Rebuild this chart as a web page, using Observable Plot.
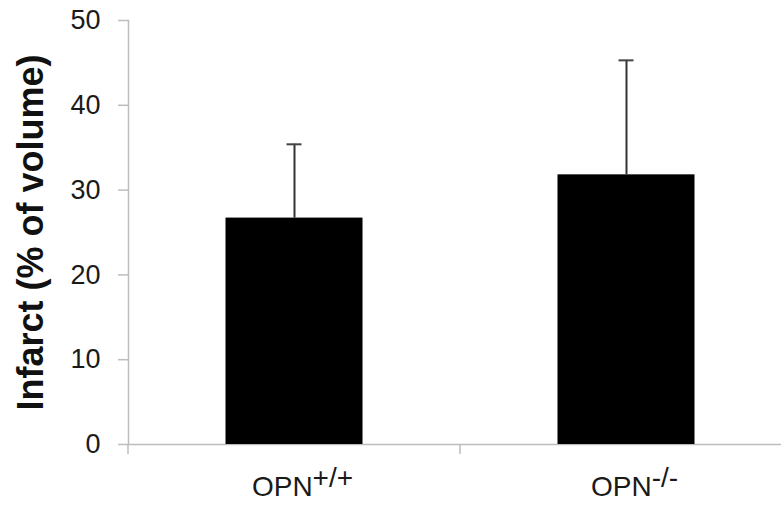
<!DOCTYPE html>
<html><head><meta charset="utf-8">
<script src="https://cdn.jsdelivr.net/npm/d3@7"></script>
<script src="https://cdn.jsdelivr.net/npm/@observablehq/plot@0.6"></script>
<style>body{margin:0;background:#fff}</style>
</head><body><div id="chart"></div>
<script>
const categories = ["OPN+/+", "OPN-/-"];
const baseLabels = ["OPN", "OPN"];
const superscripts = ["+/+", "-/-"];
const means = [26.7, 31.8];
const upperErrors = [35.4, 45.3];
const yTicks = [0, 10, 20, 30, 40, 50];
const yTitle = "Infarct (% of volume)";

const data = categories.map((c, i) => ({cat: c, mean: means[i], hi: upperErrors[i]}));
const axisGray = "#bdbdbd";

function bandTicks(index, scales) {
  const x = scales.x, y = scales.y;
  const g = d3.create("svg:g").attr("stroke", axisGray).attr("stroke-width", 1.5);
  const y0 = y(0);
  categories.forEach(c => {
    const xb = x(c);
    g.append("line").attr("x1", xb).attr("x2", xb).attr("y1", y0).attr("y2", y0 + 10);
  });
  return g.node();
}

const chart = Plot.plot({
  width: 781, height: 507,
  marginLeft: 128, marginTop: 20, marginBottom: 63, marginRight: -11,
  style: {fontFamily: "'Liberation Sans', Arial, sans-serif", background: "#fff", color: "#1a1a1a"},
  x: {domain: categories, padding: 0},
  y: {domain: [0, 50]},
  marks: [
    Plot.frame({anchor: "left", stroke: axisGray, strokeWidth: 1.5}),
    Plot.ruleY([0], {stroke: axisGray, strokeWidth: 1.5}),
    Plot.axisY({ticks: yTicks, tickSize: 10, tickPadding: 18, stroke: axisGray, strokeWidth: 1.5, fontSize: 27,
      label: yTitle, labelAnchor: "center", labelArrow: "none", labelOffset: 111}),
    Plot.axisX({tickSize: 0, tickPadding: 32, fontSize: 28, dx: 8, label: null}),
    bandTicks,
    Plot.barY(data, {x: "cat", y: "mean", fill: "#000", insetLeft: 97.5, insetRight: 97.5}),
    Plot.ruleX(data, {x: "cat", y1: "mean", y2: "hi", stroke: "#333", strokeWidth: 2}),
    Plot.tickY(data, {x: "cat", y: "hi", stroke: "#444", strokeWidth: 2, insetLeft: 158.5, insetRight: 158.5})
  ]
});
document.getElementById("chart").append(chart);

const svg = d3.select(chart);
svg.selectAll('g[aria-label="y-axis label"] text')
  .text(yTitle)
  .style("font-weight", "bold")
  .style("font-size", "36px")
  .attr("fill", "#111");
svg.selectAll('g[aria-label="x-axis tick label"] text').each(function(d, i) {
  const t = d3.select(this);
  const idx = categories.indexOf(t.text());
  if (idx < 0) return;
  t.text(null);
  t.append("tspan").text(baseLabels[idx]);
  t.append("tspan").attr("dy", "-0.33em").text(superscripts[idx]);
});
</script>
</body></html>
